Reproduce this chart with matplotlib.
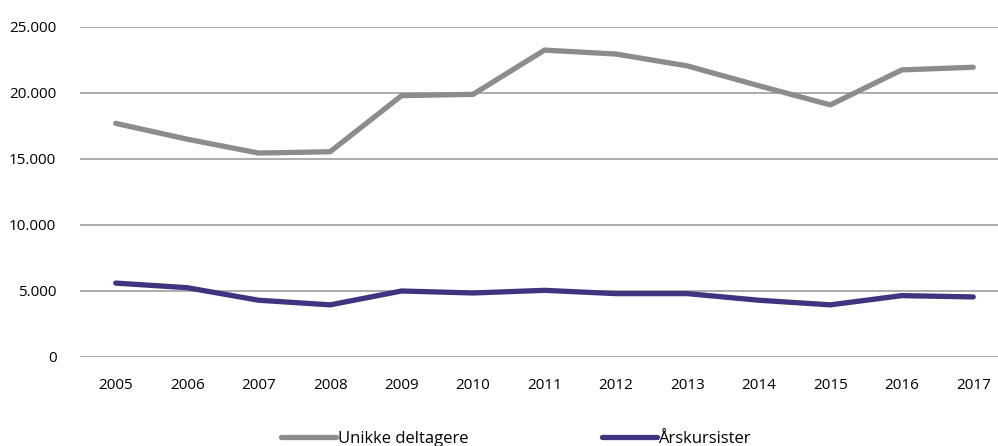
import matplotlib.pyplot as plt
from matplotlib.ticker import FuncFormatter

years = [2005, 2006, 2007, 2008, 2009, 2010, 2011, 2012, 2013, 2014, 2015, 2016, 2017]
unikke = [17700, 16500, 15450, 15550, 19800, 19900, 23250, 22950, 22050, 20550, 19100, 21750, 21950]
aarskursister = [5600, 5250, 4300, 3950, 5000, 4850, 5050, 4800, 4800, 4300, 3950, 4650, 4550]
yticks = [0, 5000, 10000, 15000, 20000, 25000]

plt.rcParams['font.family'] = ['Open Sans', 'DejaVu Sans']

fig = plt.figure(figsize=(9.98, 4.46), dpi=100)
ax = fig.add_axes([80 / 998, 89 / 446, 929 / 998, 330 / 446])

x = list(range(len(years)))
ax.plot(x, unikke, color='#8c8c8c', lw=3.8, label='Unikke deltagere', solid_capstyle='round')
ax.plot(x, aarskursister, color='#3f3480', lw=3.8, label='Årskursister', solid_capstyle='round')

ax.set_xlim(-0.5, len(years) - 0.5)
ax.set_ylim(0, 25000)
ax.set_yticks(yticks)
ax.yaxis.set_major_formatter(FuncFormatter(lambda v, p: f'{int(v):,}'.replace(',', '.')))
ax.set_xticks(x)
ax.set_xticklabels([str(y) for y in years])
ax.grid(axis='y', color='#a6a6a6', lw=1.3)
ax.set_axisbelow(True)
for s in ax.spines.values():
    s.set_visible(False)
ax.tick_params(length=0, labelsize=11, colors='black')
ax.tick_params(axis='x', pad=15)
ax.tick_params(axis='y', pad=17)

fig.legend(loc='center', bbox_to_anchor=(0.517, 0.015), ncol=2, frameon=False,
           fontsize=12, handlelength=3.3, handletextpad=0.1, columnspacing=8)

fig.savefig('out.png', dpi=100)
